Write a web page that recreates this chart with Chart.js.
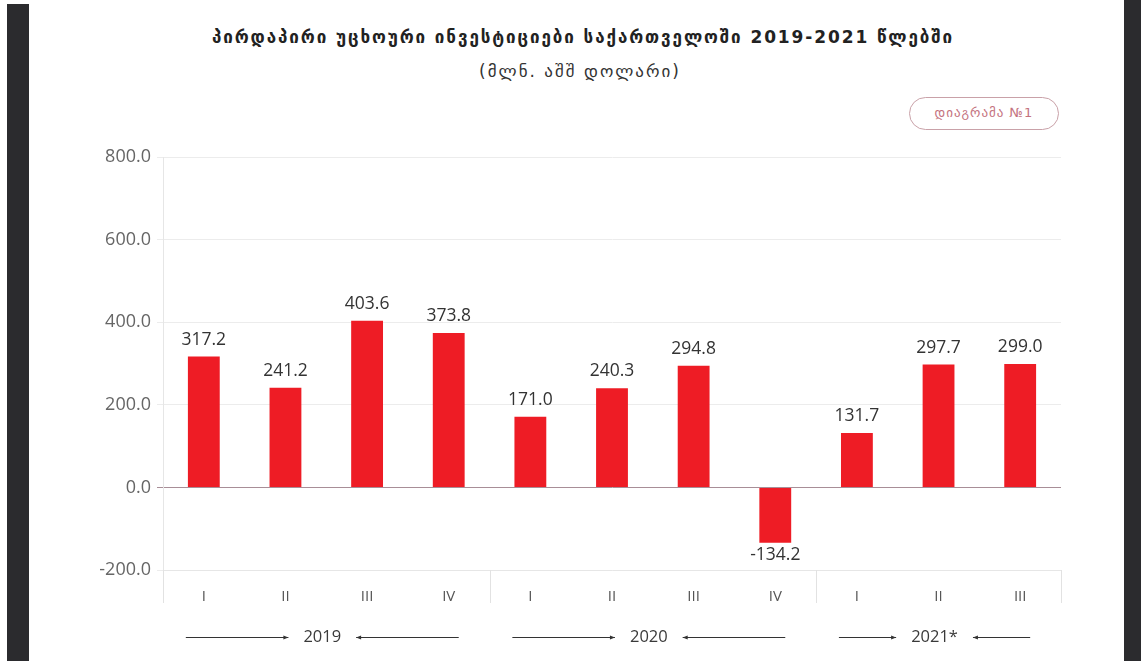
<!DOCTYPE html>
<html>
<head>
<meta charset="utf-8">
<script src="https://cdn.jsdelivr.net/npm/chart.js@4.4.1/dist/chart.umd.min.js"></script>
<style>
  html,body{margin:0;padding:0;background:#fff;width:1141px;height:661px;overflow:hidden;position:relative;font-family:"DejaVu Sans","Open Sans",sans-serif;}
  .bar-l{position:absolute;left:7px;top:4px;width:22px;height:657px;background:#2b2b2e;}
  .bar-r{position:absolute;left:1124px;top:0;width:17px;height:661px;background:#2b2b2e;}
  #title{position:absolute;left:0;width:1166px;top:27px;text-align:center;font-weight:bold;font-size:17px;letter-spacing:1.9px;color:#222;white-space:nowrap;}
  #subtitle{position:absolute;left:0;width:1160px;top:61px;text-align:center;font-size:17px;letter-spacing:2px;color:#333;}
  #btn{position:absolute;left:909px;top:97px;width:150px;height:33px;border:1.5px solid #c9a1a8;border-radius:17px;box-sizing:border-box;text-align:center;line-height:30px;font-size:13px;letter-spacing:1px;color:#c4727e;}
  canvas{position:absolute;left:0;top:0;}
</style>
</head>
<body>
<div class="bar-l"></div>
<div class="bar-r"></div>
<div id="title">პირდაპირი უცხოური ინვესტიციები საქართველოში 2019-2021 წლებში</div>
<div id="subtitle">(მლნ. აშშ დოლარი)</div>
<div id="btn">დიაგრამა №1</div>
<canvas id="c" width="1141" height="661"></canvas>
<script>
const quarters = ["I","II","III","IV","I","II","III","IV","I","II","III"];
const values = [317.2,241.2,403.6,373.8,171.0,240.3,294.8,-134.2,131.7,297.7,299.0];
const years = ["2019","2020","2021*"];
const yearSpans = [[0,3],[4,7],[8,10]];
const yTicksMin = -200, yTicksMax = 800, yStep = 200;

const decor = {
  id:'decor',
  afterDatasetsDraw(chart){
    const ctx = chart.ctx, xs = chart.scales.x, ys = chart.scales.y;
    const meta = chart.getDatasetMeta(0);
    ctx.save();
    // value labels
    ctx.font = '17.5px "Open Sans", sans-serif';
    ctx.fillStyle = '#333';
    ctx.textAlign = 'center';
    meta.data.forEach((bar,i)=>{
      const v = values[i];
      if (v >= 0){ ctx.textBaseline='bottom'; ctx.fillText(v.toFixed(1), bar.x, bar.y-8); }
      else { ctx.textBaseline='top'; ctx.fillText(v.toFixed(1), bar.x, bar.y+3); }
    });
    // separators in tick area
    const half = (xs.getPixelForTick(1)-xs.getPixelForTick(0))/2;
    const top = chart.chartArea.bottom, bot = top+33;
    ctx.strokeStyle = '#e2e2e2'; ctx.lineWidth = 1;
    const seps = [xs.getPixelForTick(0)-half];
    yearSpans.forEach(s=>seps.push(xs.getPixelForTick(s[1])+half));
    seps.forEach(x=>{ ctx.beginPath(); ctx.moveTo(Math.round(x)+0.5, top); ctx.lineTo(Math.round(x)+0.5, bot); ctx.stroke(); });
    // year labels with arrows
    const yy = 637;
    ctx.font = '16.5px "Open Sans", sans-serif';
    ctx.textBaseline = 'middle';
    ctx.strokeStyle = '#333';
    yearSpans.forEach((s,k)=>{
      const a = xs.getPixelForTick(s[0]) - 18;
      const b = xs.getPixelForTick(s[1]) + 10;
      const mid = (a+b)/2;
      const tw = ctx.measureText(years[k]).width;
      ctx.fillStyle = '#3a3a3a';
      ctx.fillText(years[k], mid, yy);
      const l1 = mid - tw/2 - 15, r1 = mid + tw/2 + 15;
      ctx.fillStyle='#333';
      ctx.beginPath(); ctx.moveTo(a, yy+0.5); ctx.lineTo(l1, yy+0.5); ctx.stroke();
      ctx.beginPath(); ctx.moveTo(l1, yy+0.5); ctx.lineTo(l1-5, yy-1.5); ctx.lineTo(l1-5, yy+2.5); ctx.closePath(); ctx.fill();
      ctx.beginPath(); ctx.moveTo(r1, yy+0.5); ctx.lineTo(b, yy+0.5); ctx.stroke();
      ctx.beginPath(); ctx.moveTo(r1, yy+0.5); ctx.lineTo(r1+5, yy-1.5); ctx.lineTo(r1+5, yy+2.5); ctx.closePath(); ctx.fill();
    });
    ctx.restore();
  }
};

new Chart(document.getElementById('c'), {
  type:'bar',
  data:{ labels: quarters, datasets:[{ data: values, backgroundColor:'#ee1c25', borderWidth:0, barPercentage:0.39, categoryPercentage:1 }]},
  options:{
    responsive:false, animation:false,
    layout:{ padding:{ left:0, top:157, right:80, bottom:58 } },
    plugins:{ legend:{display:false}, tooltip:{enabled:false}, title:{display:false} },
    scales:{
      x:{
        grid:{ display:false },
        border:{ display:true, color:'#e6e6e6' },
        ticks:{ color:'#555', font:{ size:15, family:'"Open Sans", sans-serif' }, padding:10, maxRotation:0 },
        afterFit(s){ s.height = 33; }
      },
      y:{
        min:yTicksMin, max:yTicksMax,
        ticks:{ stepSize:yStep, color:'#666', font:{ size:18, family:'"Open Sans", sans-serif' }, padding:6, callback:v=>Number(v).toFixed(1) },
        grid:{ color:ctx=> (ctx.tick && ctx.tick.value===0) ? '#a88e97' : '#ececec', tickLength:6, lineWidth:1 },
        border:{ display:true, color:'#e6e6e6' },
        afterFit(s){ s.width = 163; }
      }
    }
  },
  plugins:[decor]
});
</script>
</body>
</html>
